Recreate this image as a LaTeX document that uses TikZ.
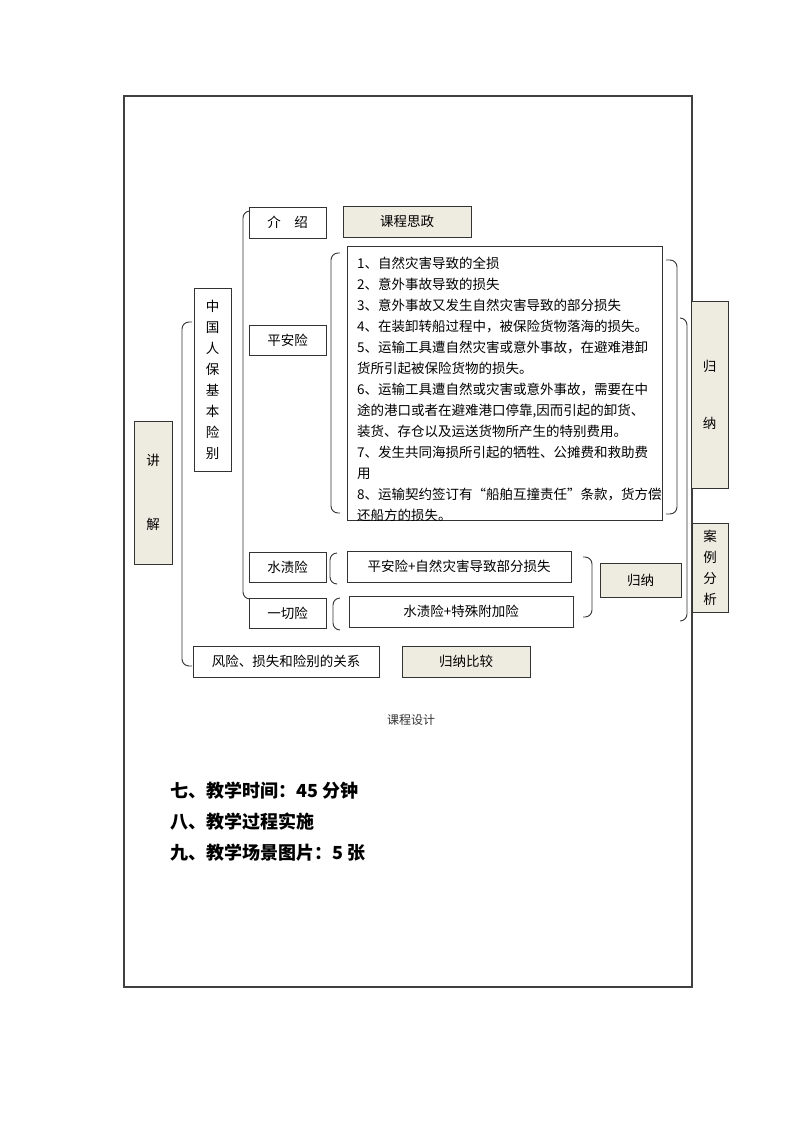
\documentclass[tikz,border=0pt]{standalone}
\usepackage{fontspec}
\setmainfont{Noto Sans CJK SC}
\usetikzlibrary{positioning}
\definecolor{kline}{HTML}{333333}
\definecolor{kbeige}{HTML}{EEECE1}
\newcommand{\BoxFont}{\fontsize{13.5}{21}\selectfont}
\newcommand{\HeadFont}{\fontsize{18}{31}\selectfont\bfseries}
% brackets: x, top, bottom, hook length
\newcommand{\lbrak}[4]{\draw[brak] (#1+#4,#2) -- (#1,#2) -- (#1,#3) -- (#1+#4,#3);}
\newcommand{\rbrak}[4]{\draw[brak] (#1-#4,#2) -- (#1,#2) -- (#1,#3) -- (#1-#4,#3);}

\begin{document}
\begin{tikzpicture}[x=1pt, y=-1pt,
  plainbox/.style={draw=kline, line width=0.9pt, fill=white,
                   inner sep=0pt, align=center, font=\BoxFont},
  tanbox/.style={plainbox, fill=kbeige},
  brak/.style={draw=kline, line width=0.9pt, rounded corners=7pt},
  frame/.style={draw=black!75, line width=1.3pt}
]
\useasboundingbox[fill=white] (0,0) rectangle (793,1122);

% page frame
\draw[frame] (124,96) rectangle (692,987);

% left column
\node[tanbox, minimum width=38, minimum height=143] (jiangjie) at (153,492.5)
  {讲\\[43pt]解};
\node[plainbox, minimum width=37, minimum height=183] (jiben) at (212.5,379.5)
  {中\\国\\人\\保\\基\\本\\险\\别};

% insurance types
\node[plainbox, minimum width=77, minimum height=31] (intro) at (287.5,222.5) {介\quad 绍};
\node[tanbox, minimum width=128, minimum height=31] (sizheng) at (407,221.5) {课程思政};
\node[plainbox, minimum width=77, minimum height=30] (pingan) at (287.5,340) {平安险};
\node[plainbox, minimum width=77, minimum height=30] (shuizi) at (287.5,567) {水渍险};
\node[plainbox, minimum width=77, minimum height=30] (yiqie) at (287.5,613) {一切险};

% coverage of the basic risk
\node[plainbox, minimum width=315, minimum height=274] (plist) at (504.5,383) {};
\begin{scope}
  \clip (plist.south west) rectangle (plist.north east);
  \node[anchor=north west, inner sep=0pt, text width=300, align=left,
        font=\BoxFont] (plisttext) at (357,257) {%
    1、自然灾害导致的全损\\
    2、意外事故导致的损失\\
    3、意外事故又发生自然灾害导致的部分损失\\
    4、在装卸转船过程中，被保险货物落海的损失。\\
    5、运输工具遭自然灾害或意外事故，在避难港卸\\
    货所引起被保险货物的损失。\\
    6、运输工具遭自然或灾害或意外事故，需要在中\\
    途的港口或者在避难港口停靠,因而引起的卸货、\\
    装货、存仓以及运送货物所产生的特别费用。\\
    7、发生共同海损所引起的牺牲、公摊费和救助费\\
    用\\
    8、运输契约签订有“船舶互撞责任”条款，货方偿\\
    还船方的损失。};
\end{scope}
\node[plainbox, minimum width=224, minimum height=31] (shuiziplus) at (459,566.5)
  {平安险+自然灾害导致部分损失};
\node[plainbox, minimum width=224, minimum height=31] (yiqieplus) at (461,611.5)
  {水渍险+特殊附加险};

% summaries
\node[tanbox, minimum width=81, minimum height=34] (guinasmall) at (640.5,580) {归纳};
\node[tanbox, minimum width=37, minimum height=187] (guinabig) at (709.5,394.5)
  {归\\[36pt]纳};
\node[tanbox, minimum width=36, minimum height=89] (anli) at (710,567.5)
  {案\\例\\分\\析};
\node[plainbox, minimum width=186, minimum height=31] (fengxian) at (286,661.5)
  {风险、损失和险别的关系};
\node[tanbox, minimum width=128, minimum height=31] (bijiao) at (466,661.5) {归纳比较};

% brackets
\lbrak{182}{322}{666}{10}
\lbrak{243}{211}{599}{6}
\lbrak{331}{253}{513}{9}
\lbrak{330}{553}{584}{7}
\lbrak{333}{598}{630}{7}
\rbrak{677}{260}{514}{11}
\rbrak{687}{318}{621}{7}
\rbrak{592}{557}{617}{9}

% caption and following text
\node[font=\fontsize{12}{14}\selectfont, text=black!80] (caption) at (411,720) {课程设计};
\node[anchor=west, inner sep=0pt, font=\HeadFont] (shijian) at (170,791) {七、教学时间：45 分钟};
\node[anchor=west, inner sep=0pt, font=\HeadFont] (guocheng) at (170,822) {八、教学过程实施};
\node[anchor=west, inner sep=0pt, font=\HeadFont] (tupian) at (170,853) {九、教学场景图片：5 张};
\end{tikzpicture}
\end{document}
